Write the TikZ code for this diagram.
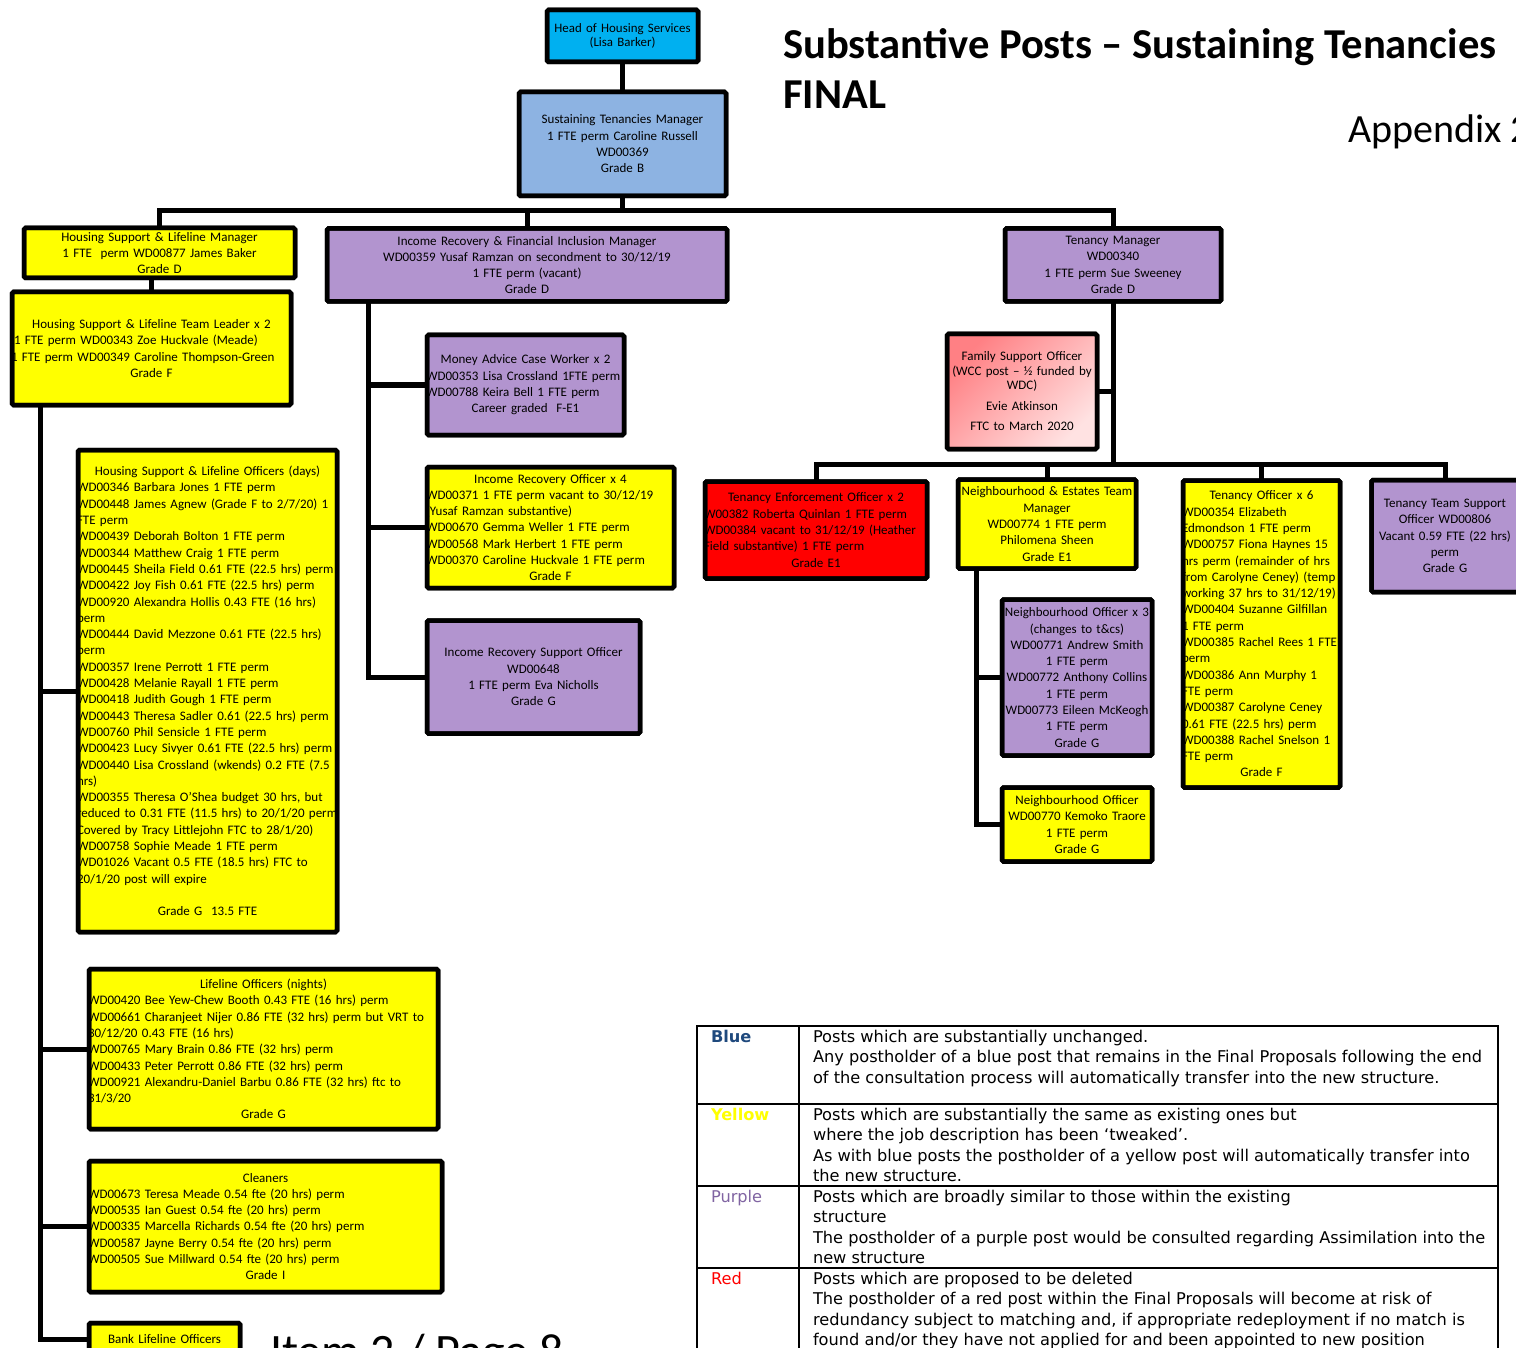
\documentclass[tikz,border=0pt]{standalone}
\usepackage{fontspec}
\setmainfont{Carlito}
\newfontfamily\legfont{DejaVu Sans}
\definecolor{cyanH}{HTML}{00B0F0}
\definecolor{blueS}{HTML}{8DB3E2}
\definecolor{yel}{HTML}{FFFF00}
\definecolor{pur}{HTML}{B294CF}
\definecolor{redT}{HTML}{FF0000}
\definecolor{fsoA}{HTML}{FF8084}
\definecolor{fsoB}{HTML}{FFE2E2}
\definecolor{legBlue}{HTML}{1F497D}
\definecolor{legPur}{HTML}{8064A2}
\newcommand\bxf{\fontsize{13}{16.3}\selectfont}
\newcommand\myc[1]{\makebox[\linewidth][c]{#1}}
\newcommand\myl[1]{\makebox[\linewidth][l]{\hspace*{-1pt}#1}}
\begin{document}
\begin{tikzpicture}[x=1pt,y=-1pt,
  box/.style={draw=black,line width=4.5pt,rounded corners=1.5pt,inner sep=0pt,outer sep=0pt,align=left,font=\bxf,text=black},
  conn/.style={line width=5pt},
  rim/.style={draw=black,line width=4.5pt,rounded corners=1.5pt},
  leg/.style={inner sep=0pt,outer sep=0pt,align=left,font=\legfont\fontsize{16.2}{20.5}\selectfont},
  legl/.style={inner sep=0pt,outer sep=0pt,font=\legfont\fontsize{16.2}{20.5}\selectfont},
  tab/.style={line width=2.5pt}]
\useasboundingbox (0,0) rectangle (1516,1348);
\clip (0,0) rectangle (1516,1348);
\fill[white] (0,0) rectangle (1516,1348);

% titles
\node[anchor=base west,inner sep=0pt,font=\fontsize{42.6}{50}\selectfont\bfseries] (t1) at (783,59) {Substantive Posts – Sustaining Tenancies};
\node[anchor=base west,inner sep=0pt,font=\fontsize{42.6}{50}\selectfont\bfseries] (t2) at (783,109) {FINAL};
\node[anchor=base west,inner sep=0pt,font=\fontsize{40}{48}\selectfont] (app) at (1348,143) {Appendix 2};
\node[anchor=base west,inner sep=0pt,font=\fontsize{48}{56}\selectfont] (item) at (270,1367) {Item 2 / Page 8};

% boxes
\node[box,fill=cyanH,minimum width=151pt,minimum height=52pt,text width=151pt,font=\fontsize{12.9}{14}\selectfont] (head) at (622.5,36)
 {\myc{Head of Housing Services}\\\myc{(Lisa Barker)}};
\node[box,fill=blueS,minimum width=207pt,minimum height=104pt,text width=207pt] (stm) at (622.5,144)
 {\myc{Sustaining Tenancies Manager}\\\myc{1 FTE perm Caroline Russell}\\\myc{WD00369}\\\myc{Grade B}};
\node[box,fill=yel,minimum width=271pt,minimum height=50pt,text width=271pt] (hslm) at (159.5,253)
 {\myc{Housing Support \& Lifeline Manager}\\\myc{1 FTE\ \ perm WD00877 James Baker}\\\myc{Grade D}};
\node[box,fill=yel,minimum width=279pt,minimum height=113pt,text width=279pt] (hsltl) at (151.5,348.5)
 {\myc{Housing Support \& Lifeline Team Leader x 2}\\\myl{\hspace*{3pt}1 FTE perm WD00343 Zoe Huckvale (Meade)}\\\myl{1 FTE perm WD00349 Caroline Thompson-Green}\\\myc{Grade F}};
\node[box,fill=yel,minimum width=259pt,minimum height=482pt,text width=259pt] (hslod) at (207.5,691)
 {\myc{Housing Support \& Lifeline Officers (days)}\\
  \myl{WD00346 Barbara Jones 1 FTE perm}\\
  \myl{WD00448 James Agnew (Grade F to 2/7/20) 1}\\
  \myl{FTE perm}\\
  \myl{WD00439 Deborah Bolton 1 FTE perm}\\
  \myl{WD00344 Matthew Craig 1 FTE perm}\\
  \myl{WD00445 Sheila Field 0.61 FTE (22.5 hrs) perm}\\
  \myl{WD00422 Joy Fish 0.61 FTE (22.5 hrs) perm}\\
  \myl{WD00920 Alexandra Hollis 0.43 FTE (16 hrs)}\\
  \myl{perm}\\
  \myl{WD00444 David Mezzone 0.61 FTE (22.5 hrs)}\\
  \myl{perm}\\
  \myl{WD00357 Irene Perrott 1 FTE perm}\\
  \myl{WD00428 Melanie Rayall 1 FTE perm}\\
  \myl{WD00418 Judith Gough 1 FTE perm}\\
  \myl{WD00443 Theresa Sadler 0.61 (22.5 hrs) perm}\\
  \myl{WD00760 Phil Sensicle 1 FTE perm}\\
  \myl{WD00423 Lucy Sivyer 0.61 FTE (22.5 hrs) perm}\\
  \myl{WD00440 Lisa Crossland (wkends) 0.2 FTE (7.5}\\
  \myl{hrs)}\\
  \myl{WD00355 Theresa O’Shea budget 30 hrs, but}\\
  \myl{reduced to 0.31 FTE (11.5 hrs) to 20/1/20 perm}\\
  \myl{Covered by Tracy Littlejohn FTC to 28/1/20)}\\
  \myl{WD00758 Sophie Meade 1 FTE perm}\\
  \myl{WD01026 Vacant 0.5 FTE (18.5 hrs) FTC to}\\
  \myl{20/1/20 post will expire}\\
  \mbox{}\\
  \myc{Grade G\ \ 13.5 FTE}};
\node[box,fill=yel,minimum width=349pt,minimum height=160pt,text width=349pt] (lln) at (263.5,1049)
 {\myc{Lifeline Officers (nights)}\\
  \myl{WD00420 Bee Yew-Chew Booth 0.43 FTE (16 hrs) perm}\\
  \myl{WD00661 Charanjeet Nijer 0.86 FTE (32 hrs) perm but VRT to}\\
  \myl{30/12/20 0.43 FTE (16 hrs)}\\
  \myl{WD00765 Mary Brain 0.86 FTE (32 hrs) perm}\\
  \myl{WD00433 Peter Perrott 0.86 FTE (32 hrs) perm}\\
  \myl{WD00921 Alexandru-Daniel Barbu 0.86 FTE (32 hrs) ftc to}\\
  \myl{31/3/20}\\
  \myc{Grade G}};
\node[box,fill=yel,minimum width=353pt,minimum height=131pt,text width=353pt] (cln) at (265.5,1226.5)
 {\myc{Cleaners}\\
  \myl{WD00673 Teresa Meade 0.54 fte (20 hrs) perm}\\
  \myl{WD00535 Ian Guest 0.54 fte (20 hrs) perm}\\
  \myl{WD00335 Marcella Richards 0.54 fte (20 hrs) perm}\\
  \myl{WD00587 Jayne Berry 0.54 fte (20 hrs) perm}\\
  \myl{WD00505 Sue Millward 0.54 fte (20 hrs) perm}\\
  \myc{Grade I}};
\node[box,fill=yel,minimum width=151pt,minimum height=33pt,text width=151pt] (bank) at (164.5,1339.5)
 {\myc{Bank Lifeline Officers}};

\node[box,fill=pur,minimum width=400pt,minimum height=73pt,text width=400pt] (irfim) at (527,265)
 {\myc{Income Recovery \& Financial Inclusion Manager}\\\myc{WD00359 Yusaf Ramzan on secondment to 30/12/19}\\\myc{1 FTE perm (vacant)}\\\myc{Grade D}};
\node[box,fill=pur,minimum width=197pt,minimum height=100pt,text width=197pt] (macw) at (525.5,385)
 {\myc{Money Advice Case Worker x 2}\\\myl{WD00353 Lisa Crossland 1FTE perm}\\\myl{WD00788 Keira Bell 1 FTE perm}\\\myc{Career graded\ \ F-E1}};
\node[box,fill=yel,minimum width=247pt,minimum height=121pt,text width=247pt] (iro) at (550.5,527.5)
 {\myc{Income Recovery Officer x 4}\\
  \myl{WD00371 1 FTE perm vacant to 30/12/19}\\
  \myl{(Yusaf Ramzan substantive)}\\
  \myl{WD00670 Gemma Weller 1 FTE perm}\\
  \myl{WD00568 Mark Herbert 1 FTE perm}\\
  \myl{WD00370 Caroline Huckvale 1 FTE perm}\\
  \myc{Grade F}};
\node[box,fill=pur,minimum width=213pt,minimum height=113pt,text width=213pt] (irso) at (533.5,677)
 {\myc{Income Recovery Support Officer}\\\myc{WD00648}\\\myc{1 FTE perm Eva Nicholls}\\\myc{Grade G}};

\node[box,fill=pur,minimum width=216pt,minimum height=73pt,text width=216pt] (tm) at (1113,265)
 {\myc{Tenancy Manager}\\\myc{WD00340}\\\myc{1 FTE perm Sue Sweeney}\\\myc{Grade D}};
\node[box,top color=fsoA,bottom color=fsoB,shading angle=45,minimum width=150pt,minimum height=115pt,text width=150pt,font=\fontsize{13}{14.5}\selectfont] (fso) at (1022,391.5)
 {\myc{Family Support Officer}\\\myc{(WCC post – ½ funded by}\\\myc{WDC)}\\[6pt]\myc{Evie Atkinson}\\[6pt]\myc{FTC to March 2020}};
\node[box,fill=redT,minimum width=222pt,minimum height=97pt,text width=222pt] (teo) at (816,530)
 {\myc{Tenancy Enforcement Officer x 2}\\
  \myl{W00382 Roberta Quinlan 1 FTE perm}\\
  \myl{WD00384 vacant to 31/12/19 (Heather}\\
  \myl{Field substantive) 1 FTE perm}\\
  \myc{Grade E1}};
\node[box,fill=yel,minimum width=178pt,minimum height=89pt,text width=178pt] (netm) at (1047,524)
 {\myc{Neighbourhood \& Estates Team}\\\myc{Manager}\\\myc{WD00774 1 FTE perm}\\\myc{Philomena Sheen}\\\myc{Grade E1}};
\node[box,fill=pur,minimum width=150pt,minimum height=156pt,text width=150pt] (no3) at (1077,677.5)
 {\myc{Neighbourhood Officer x 3}\\\myc{(changes to t\&cs)}\\\myc{WD00771 Andrew Smith}\\\myc{1 FTE perm}\\\myc{WD00772 Anthony Collins}\\\myc{1 FTE perm}\\\myc{WD00773 Eileen McKeogh}\\\myc{1 FTE perm}\\\myc{Grade G}};
\node[box,fill=yel,minimum width=150pt,minimum height=74pt,text width=150pt] (no) at (1077,824.5)
 {\myc{Neighbourhood Officer}\\\myc{WD00770 Kemoko Traore}\\\myc{1 FTE perm}\\\myc{Grade G}};
\node[box,fill=yel,minimum width=157pt,minimum height=307pt,text width=157pt] (to) at (1261.5,634)
 {\myc{Tenancy Officer x 6}\\
  \myl{WD00354 Elizabeth}\\
  \myl{Edmondson 1 FTE perm}\\
  \myl{WD00757 Fiona Haynes 15}\\
  \myl{hrs perm (remainder of hrs}\\
  \myl{from Carolyne Ceney) (temp}\\
  \myl{working 37 hrs to 31/12/19)}\\
  \myl{WD00404 Suzanne Gilfillan}\\
  \myl{1 FTE perm}\\
  \myl{WD00385 Rachel Rees 1 FTE}\\
  \myl{perm}\\
  \myl{WD00386 Ann Murphy 1}\\
  \myl{FTE perm}\\
  \myl{WD00387 Carolyne Ceney}\\
  \myl{0.61 FTE (22.5 hrs) perm}\\
  \myl{WD00388 Rachel Snelson 1}\\
  \myl{FTE perm}\\
  \myc{Grade F}};
\node[box,fill=pur,minimum width=147pt,minimum height=112pt,text width=147pt] (ttso) at (1445,536)
 {\myc{Tenancy Team Support}\\\myc{Officer WD00806}\\\myc{Vacant 0.59 FTE (22 hrs)}\\\myc{perm}\\\myc{Grade G}};

% connectors
\coordinate (bus) at (622.5,211);
\draw[conn] (head.south) -- (stm.north);
\draw[conn] (stm.south) -- (bus);
\draw[conn] (hslm.north) |- (bus) -| (tm.north);
\draw[conn] (irfim.north) -- (irfim.north |- bus);
\draw[conn] (hsltl.north) -- (hsltl.north |- hslm.south);
\coordinate (lsp) at (40,405);
\draw[conn] (lsp) |- (bank.west);
\draw[conn] (hslod.west) -- (hslod.west -| lsp);
\draw[conn] (lln.west) -- (lln.west -| lsp);
\draw[conn] (cln.west) -- (cln.west -| lsp);
\coordinate (isp) at (368,301);
\draw[conn] (isp) |- (irso.west);
\draw[conn] (macw.west) -- (macw.west -| isp);
\draw[conn] (iro.west) -- (iro.west -| isp);
\coordinate (tbus) at (1113,464);
\draw[conn] (tm.south) -- (tbus);
\draw[conn] (fso.east) -- (fso.east -| tbus);
\draw[conn] (teo.north) |- (tbus) -| (ttso.north);
\draw[conn] (netm.north) -- (netm.north |- tbus);
\draw[conn] (to.north) -- (to.north |- tbus);
\coordinate (nsp) at (976,568);
\draw[conn] (nsp) |- (no.west);
\draw[conn] (no3.west) -- (no3.west -| nsp);

% borders on top of overflowing text
\foreach \n in {head,stm,hslm,hsltl,hslod,lln,cln,bank,irfim,macw,iro,irso,tm,fso,teo,netm,no3,no,to,ttso}
  \draw[rim] (\n.north west) rectangle (\n.south east);

% legend table
\draw[tab] (697,1400) -- (697,1026) -- (1498,1026) -- (1498,1400);
\draw[tab] (799,1026) -- (799,1400);
\draw[tab] (697,1104) -- (1498,1104);
\draw[tab] (697,1186) -- (1498,1186);
\draw[tab] (697,1268) -- (1498,1268);

\node[legl,anchor=base west,text=legBlue,font=\legfont\bfseries\fontsize{16.2}{20.5}\selectfont] (lb) at (711,1042) {Blue};
\node[legl,anchor=base west,text=yel,font=\legfont\bfseries\fontsize{16.2}{20.5}\selectfont] (ly) at (711,1120) {Yellow};
\node[legl,anchor=base west,text=legPur] (lp) at (711,1202) {Purple};
\node[legl,anchor=base west,text=redT] (lr) at (711,1284) {Red};

\node[leg,anchor=north west] (tb) at (813,1030) {Posts which are substantially unchanged.\\Any postholder of a blue post that remains in the Final Proposals following the end\\of the consultation process will automatically transfer into the new structure.};
\node[leg,anchor=north west] (ty) at (813,1108) {Posts which are substantially the same as existing ones but\\where the job description has been ‘tweaked’.\\As with blue posts the postholder of a yellow post will automatically transfer into\\the new structure.};
\node[leg,anchor=north west] (tp) at (813,1190) {Posts which are broadly similar to those within the existing\\structure\\The postholder of a purple post would be consulted regarding Assimilation into the\\new structure};
\node[leg,anchor=north west] (tr) at (813,1272) {Posts which are proposed to be deleted\\The postholder of a red post within the Final Proposals will become at risk of\\redundancy subject to matching and, if appropriate redeployment if no match is\\found and/or they have not applied for and been appointed to new position};
\end{tikzpicture}
\end{document}
